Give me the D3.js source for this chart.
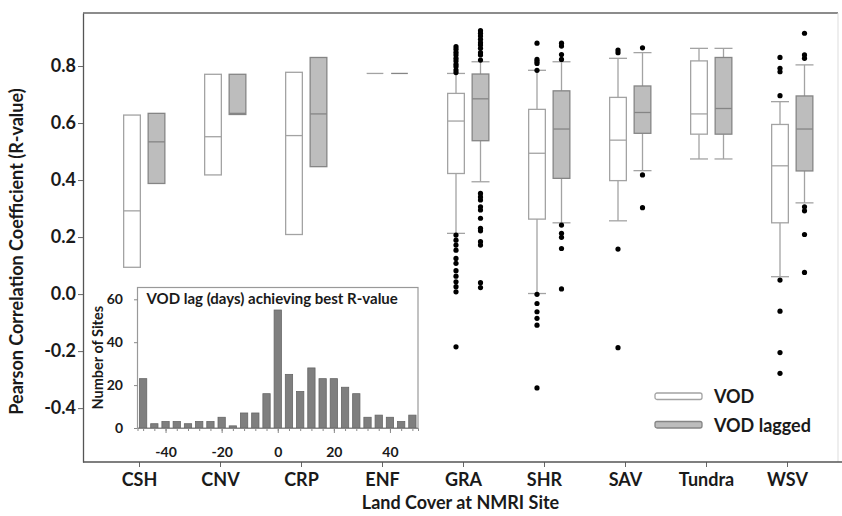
<!DOCTYPE html>
<html>
<head>
<meta charset="utf-8">
<script src="https://cdn.jsdelivr.net/npm/d3@7"></script>
<style>
  body { margin: 0; background: #fff; }
  text { font-family: Lato, "Open Sans", sans-serif; font-weight: bold; fill: #1a1a1a; }
</style>
</head>
<body>
<div id="graphic"></div>
<script>
// land cover classes and the two series
let categories = ["CSH", "CNV", "CRP", "ENF", "GRA", "SHR", "SAV", "Tundra", "WSV"];
let series = ["VOD", "VOD lagged"];

// box statistics, one value per land cover
let vodQ1     = [0.094, 0.418, 0.209, 0.774, 0.423, 0.263, 0.398, 0.561, 0.250];
let vodMedian = [0.292, 0.552, 0.556, 0.774, 0.607, 0.494, 0.540, 0.632, 0.450];
let vodQ3     = [0.628, 0.771, 0.778, 0.774, 0.704, 0.648, 0.690, 0.818, 0.595];
let vodLow    = [null, null, null, null, 0.213, 0.002, 0.257, 0.474, 0.061];
let vodHigh   = [null, null, null, null, 0.774, 0.785, 0.827, 0.862, 0.675];

let lagQ1     = [0.388, 0.630, 0.447, 0.774, 0.538, 0.406, 0.564, 0.561, 0.432];
let lagMedian = [0.534, 0.634, 0.632, 0.774, 0.685, 0.579, 0.637, 0.651, 0.579];
let lagQ3     = [0.634, 0.771, 0.830, 0.774, 0.772, 0.713, 0.730, 0.830, 0.695];
let lagLow    = [null, null, null, null, 0.394, 0.250, 0.433, 0.474, 0.320];
let lagHigh   = [null, null, null, null, 0.815, 0.815, 0.847, 0.862, 0.804];

// outliers
let vodOutliers = [
  [], [], [], [],
  [0.868, 0.859, 0.848, 0.839, 0.827, 0.818, 0.806, 0.798, 0.786, 0.777,
   0.207, 0.189, 0.172, 0.154, 0.125, 0.108, 0.082, 0.063, 0.043, 0.026, 0.008, -0.185],
  [0.880, 0.823, 0.816, 0.809, 0.785, -0.001, -0.033, -0.062, -0.085, -0.109, -0.329],
  [0.856, 0.847, 0.158, -0.188],
  [],
  [0.830, 0.792, 0.780, 0.696, 0.049, -0.060, -0.205, -0.278]
];
let lagOutliers = [
  [], [], [], [],
  [0.924, 0.915, 0.905, 0.894, 0.882, 0.874, 0.862, 0.847, 0.839, 0.821,
   0.353, 0.341, 0.330, 0.306, 0.295, 0.266, 0.231, 0.222, 0.184, 0.172, 0.040, 0.023],
  [0.880, 0.870, 0.840, 0.823, 0.242, 0.213, 0.199, 0.160, 0.018],
  [0.864, 0.418, 0.303],
  [],
  [0.915, 0.839, 0.827, 0.306, 0.292, 0.209, 0.076]
];

let yTicks = [-0.4, -0.2, 0.0, 0.2, 0.4, 0.6, 0.8];

// inset histogram: lag (days) giving best R-value
let lagDays   = [-48, -44, -40, -36, -32, -28, -24, -20, -16, -12, -8, -4, 0,
                 4, 8, 12, 16, 20, 24, 28, 32, 36, 40, 44, 48];
let lagCounts = [23, 2, 3, 3, 2, 3, 3, 5, 1, 7, 7, 16, 55,
                 25, 17, 28, 23, 23, 19, 16, 5, 6, 5, 3, 6];
let lagTicks   = [-40, -20, 0, 20, 40];
let countTicks = [0, 20, 40, 60];

// set the dimensions and margins of the graph
let margin = {top: 13, right: 4, bottom: 54, left: 83};
let width = 842 - margin.left - margin.right;
let height = 516 - margin.top - margin.bottom;

let svg = d3.select("#graphic")
  .append("svg")
    .attr("width", 842)
    .attr("height", 516)
  .append("g")
    .attr("transform", "translate(" + margin.left + "," + margin.top + ")");

// scales
let x = d3.scalePoint().domain(categories).range([56, 704]);
let offset = d3.scalePoint().domain(series).range([-7, 17.5]);
let boxW = 16.7;
let y = d3.scaleLinear().domain([-0.589, 0.986]).range([height, 0]);

// frame
svg.append("line").attr("x1", 0).attr("x2", width).attr("y1", 0).attr("y2", 0)
  .attr("stroke", "#666").attr("stroke-width", 1.3);
svg.append("line").attr("x1", width).attr("x2", width).attr("y1", 0).attr("y2", height)
  .attr("stroke", "#ddd");

// X axis
let xAxis = svg.append("g")
  .attr("transform", "translate(0," + height + ")")
  .call(d3.axisBottom(x).tickSize(5).tickSizeOuter(0).tickPadding(6));
xAxis.select(".domain").remove();
xAxis.selectAll("line").attr("stroke", "#666");
xAxis.selectAll("text").style("font-size", "18px").attr("fill", "#1a1a1a");
svg.append("line").attr("x1", 0).attr("x2", width + margin.right).attr("y1", height).attr("y2", height)
  .attr("stroke", "#555").attr("stroke-width", 1.3);

// Y axis
let yAxis = svg.append("g")
  .call(d3.axisLeft(y).tickValues(yTicks).tickFormat(d => d.toFixed(1)).tickSize(5).tickSizeOuter(0).tickPadding(2));
yAxis.select(".domain").attr("stroke", "#555").attr("stroke-width", 1.3);
yAxis.selectAll("line").attr("stroke", "#666");
yAxis.selectAll("text").style("font-size", "18px").attr("fill", "#1a1a1a");

// axis titles
svg.append("text")
  .attr("transform", "translate(-60," + (height / 2 + 14) + ")rotate(-90)")
  .attr("text-anchor", "middle")
  .style("font-size", "18px")
  .text("Pearson Correlation Coefficient (R-value)");
svg.append("text")
  .attr("x", width / 2)
  .attr("y", height + 47)
  .attr("text-anchor", "middle")
  .style("font-size", "18px")
  .text("Land Cover at NMRI Site");

// box data
let boxes = [];
categories.forEach(function(c, i) {
  boxes.push({cat: c, s: "VOD", q1: vodQ1[i], med: vodMedian[i], q3: vodQ3[i],
              lo: vodLow[i], hi: vodHigh[i], out: vodOutliers[i]});
  boxes.push({cat: c, s: "VOD lagged", q1: lagQ1[i], med: lagMedian[i], q3: lagQ3[i],
              lo: lagLow[i], hi: lagHigh[i], out: lagOutliers[i]});
});
let fill = {"VOD": "#ffffff", "VOD lagged": "#bdbdbd"};
let stroke = {"VOD": "#a3a3a3", "VOD lagged": "#858585"};
let cx = d => x(d.cat) + offset(d.s);

let g = svg.selectAll("g.box")
  .data(boxes)
  .enter()
  .append("g")
    .attr("class", "box");

// whiskers
g.filter(d => d.hi != null).each(function(d) {
  let el = d3.select(this);
  el.append("line").attr("x1", cx(d)).attr("x2", cx(d)).attr("y1", y(d.q3)).attr("y2", y(d.hi))
    .attr("stroke", "#a3a3a3").attr("stroke-width", 1.3);
  el.append("line").attr("x1", cx(d)).attr("x2", cx(d)).attr("y1", y(d.q1)).attr("y2", y(d.lo))
    .attr("stroke", "#a3a3a3").attr("stroke-width", 1.3);
  [d.hi, d.lo].forEach(function(v) {
    el.append("line").attr("x1", cx(d) - 9).attr("x2", cx(d) + 9).attr("y1", y(v)).attr("y2", y(v))
      .attr("stroke", "#a3a3a3").attr("stroke-width", 1.3);
  });
});

// boxes
g.append("rect")
  .attr("x", d => cx(d) - boxW / 2)
  .attr("y", d => y(d.q3))
  .attr("width", boxW)
  .attr("height", d => y(d.q1) - y(d.q3))
  .attr("fill", d => fill[d.s])
  .attr("stroke", d => stroke[d.s])
  .attr("stroke-width", 1.3);
g.append("line")
  .attr("x1", d => cx(d) - boxW / 2)
  .attr("x2", d => cx(d) + boxW / 2)
  .attr("y1", d => y(d.med))
  .attr("y2", d => y(d.med))
  .attr("stroke", d => stroke[d.s])
  .attr("stroke-width", 1.3);

// outliers
g.selectAll("circle")
  .data(d => d.out.map(v => ({v: v, cx: cx(d)})))
  .enter()
  .append("circle")
    .attr("cx", d => d.cx)
    .attr("cy", d => y(d.v))
    .attr("r", 2.6)
    .attr("fill", "#000");

// legend
let legend = svg.append("g")
  .attr("transform", "translate(" + (655 - margin.left) + "," + (393 - margin.top) + ")");
series.forEach(function(s, i) {
  legend.append("rect")
    .attr("x", 0).attr("y", i * 28.5)
    .attr("width", 47).attr("height", 6.5).attr("rx", 2)
    .attr("fill", fill[s]).attr("stroke", stroke[s]).attr("stroke-width", 1.3);
  legend.append("text")
    .attr("x", 59).attr("y", i * 28.5 + 10)
    .style("font-size", "18px")
    .text(s);
});

// inset histogram
let insetW = 280.5, insetH = 140.5;
let inset = svg.append("g")
  .attr("transform", "translate(" + (137.5 - margin.left) + "," + (287.5 - margin.top) + ")");
let hx = d3.scaleLinear().domain([-50, 50]).range([0, insetW]);
let hy = d3.scaleLinear().domain([0, 65.5]).range([insetH, 0]);
let barW = hx(1.3) - hx(-1.3);

inset.append("rect")
  .attr("width", insetW).attr("height", insetH)
  .attr("fill", "#fff").attr("stroke", "#999").attr("stroke-width", 1.2);

inset.selectAll("rect.bar")
  .data(lagDays)
  .enter()
  .append("rect")
    .attr("class", "bar")
    .attr("x", d => hx(d) - barW / 2)
    .attr("y", (d, i) => hy(lagCounts[i]))
    .attr("width", barW)
    .attr("height", (d, i) => insetH - hy(lagCounts[i]))
    .attr("fill", "#7f7f7f")
    .attr("stroke", "#666")
    .attr("stroke-width", 0.8);

// inset x axis: minor ticks under every bar, labelled ticks every 20 days
let hxMinor = inset.append("g")
  .attr("transform", "translate(0," + insetH + ")")
  .call(d3.axisBottom(hx).tickValues(lagDays).tickSize(3).tickFormat(""));
hxMinor.select(".domain").attr("stroke", "#888");
hxMinor.selectAll("line").attr("stroke", "#888");
let hxMajor = inset.append("g")
  .attr("transform", "translate(0," + insetH + ")")
  .call(d3.axisBottom(hx).tickValues(lagTicks).tickSize(5).tickPadding(14).tickFormat(d => String(d)));
hxMajor.select(".domain").remove();
hxMajor.selectAll("line").attr("stroke", "#888");
hxMajor.selectAll("text").style("font-size", "14px").attr("fill", "#1a1a1a");

// inset y axis
let hyAxis = inset.append("g")
  .call(d3.axisLeft(hy).tickValues(countTicks).tickSize(3.5).tickPadding(11));
hyAxis.select(".domain").remove();
hyAxis.selectAll("line").attr("stroke", "#888");
hyAxis.selectAll("text").style("font-size", "14px").attr("fill", "#1a1a1a");

inset.append("text")
  .attr("x", 9).attr("y", 16)
  .style("font-size", "15px")
  .text("VOD lag (days) achieving best R-value");
inset.append("text")
  .attr("transform", "translate(-35," + insetH / 2 + ")rotate(-90)")
  .attr("text-anchor", "middle")
  .style("font-size", "14.5px")
  .text("Number of Sites");
</script>
</body>
</html>
